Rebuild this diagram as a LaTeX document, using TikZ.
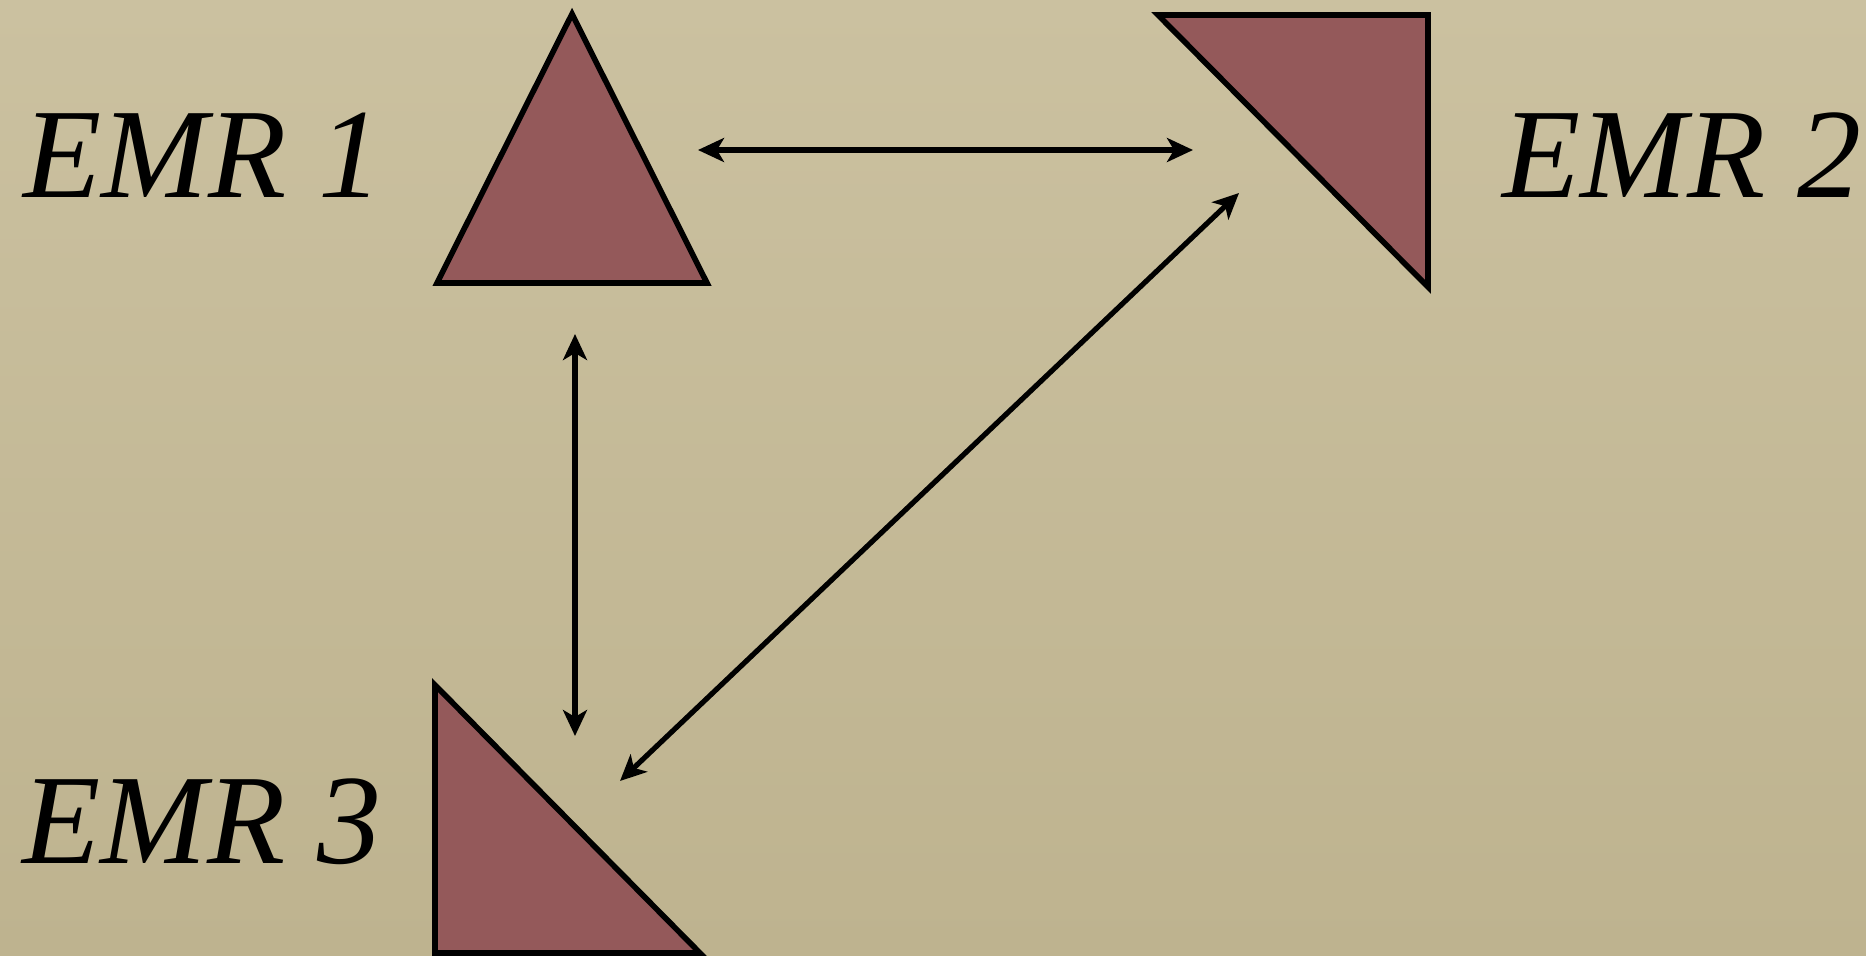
\documentclass[tikz,border=0pt]{standalone}
\usepackage{fontspec}
\setmainfont{Liberation Serif}
\usetikzlibrary{arrows.meta,positioning}
\definecolor{paperhi}{RGB}{203,193,160}
\definecolor{paperlo}{RGB}{190,179,143}
\definecolor{mauve}{RGB}{148,89,90}

\begin{document}
\begin{tikzpicture}
  [x=0.5pt, y=-0.5pt,
   tri/.style = {fill=mauve, draw=black, line width=2.8pt, line join=miter},
   emr/.style = {anchor=base west, inner sep=0pt, font=\fontsize{64}{64}\selectfont\itshape},
   link/.style = {line width=2.6pt, {Stealth[length=13pt,width=12pt,inset=3.5pt]}-{Stealth[length=13pt,width=12pt,inset=3.5pt]}}]
  \shade[top color=paperhi, bottom color=paperlo] (0,0) rectangle (1866,955);
  \useasboundingbox (0,0) rectangle (1866,955);
  % triangles
  \draw[tri] (437,283) -- (572,14) -- (707,283) -- cycle;
  \draw[tri] (1158,15) -- (1428,15) -- (1428,287) -- cycle;
  \draw[tri] (435,685) -- (435,953) -- (700,953) -- cycle;
  % labels
  \node (emr1) [emr] at (23,197) {EMR 1};
  \node (emr2) [emr] at (1502,197) {EMR 2};
  \node (emr3) [emr] at (22,863) {EMR 3};
  % link ends
  \coordinate (a1) at (698,150);
  \coordinate (a2) at (1193,150);
  \coordinate (b1) at (575,334);
  \coordinate (b3) at (575,736);
  \coordinate (c2) at (1239,193);
  \coordinate (c3) at (620,781);
  \draw[link] (a1) -- (a2);
  \draw[link] (b1) -- (b3);
  \draw[link] (c2) -- (c3);
\end{tikzpicture}
\end{document}
